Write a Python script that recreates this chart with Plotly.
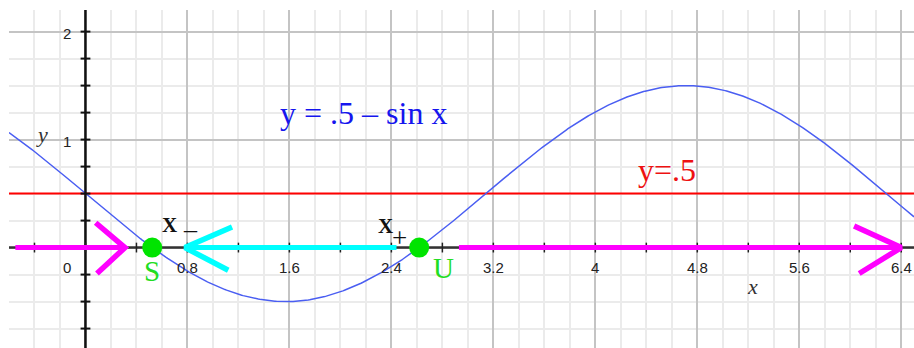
import numpy as np
import plotly.graph_objects as go

# curve y = .5 - sin x sampled over the visible window
x_min, x_max = -0.6, 6.5
y_min, y_max = -0.93, 2.2
curve_x = np.linspace(x_min, x_max, 600)
curve_y = 0.5 - np.sin(curve_x)
level = 0.5

# equilibria: stable S and unstable U
eq_x = [np.pi / 6, 5 * np.pi / 6]
eq_y = [0.0, 0.0]

# tick labels
x_tick_vals = [0.8, 1.6, 2.4, 3.2, 4.0, 4.8, 5.6, 6.4]
x_tick_text = ["0.8", "1.6", "2.4", "3.2", "4", "4.8", "5.6", "6.4"]
y_tick_vals = [1, 2]
y_tick_text = ["1", "2"]
x_tick_marks = [round(-0.4 + 0.4 * i, 2) for i in range(18)]
y_tick_marks = [round(-0.75 + 0.25 * i, 2) for i in range(12)]

# flow arrows on the phase line (shaft + chevron head)
left_shaft_x = [-0.55, 0.3]
left_head_x = [0.08, 0.31, 0.09]
left_head_y = [0.23, 0.0, -0.24]
mid_shaft_x = [0.78, 2.44]
mid_head_x = [1.15, 0.78, 1.12]
mid_head_y = [0.19, 0.0, -0.21]
right_shaft_x = [2.93, 6.4]
right_head_x = [6.03, 6.4, 6.07]
right_head_y = [0.2, 0.0, -0.24]

MAGENTA = "#ff00ff"
CYAN = "#00ffff"
GREEN = "#00e400"
SERIF = "Liberation Serif"
SANS = "Liberation Sans"

fig = go.Figure()

fig.add_trace(go.Scatter(x=[x_min, x_max], y=[level, level], mode="lines",
                         line=dict(color="#ff0000", width=2)))
fig.add_trace(go.Scatter(x=curve_x, y=curve_y, mode="lines",
                         line=dict(color="#4a5ef2", width=1.5)))

# axes through the origin
fig.add_trace(go.Scatter(x=[x_min, x_max], y=[0, 0], mode="lines",
                         line=dict(color="#333333", width=2.5)))
fig.add_trace(go.Scatter(x=[0, 0], y=[y_min, y_max], mode="lines",
                         line=dict(color="#111111", width=2.5)))
fig.add_trace(go.Scatter(x=x_tick_marks, y=[0] * len(x_tick_marks), mode="markers",
                         marker=dict(symbol="line-ns", size=7,
                                     line=dict(color="#222222", width=1.5))))
fig.add_trace(go.Scatter(x=[0] * len(y_tick_marks), y=y_tick_marks, mode="markers",
                         marker=dict(symbol="line-ew", size=7,
                                     line=dict(color="#111111", width=2))))

# arrows
for sx, hx, hy, col in [(left_shaft_x, left_head_x, left_head_y, MAGENTA),
                        (mid_shaft_x, mid_head_x, mid_head_y, CYAN),
                        (right_shaft_x, right_head_x, right_head_y, MAGENTA)]:
    fig.add_trace(go.Scatter(x=sx, y=[0, 0], mode="lines",
                             line=dict(color=col, width=5)))
    fig.add_trace(go.Scatter(x=hx, y=hy, mode="lines",
                             line=dict(color=col, width=5.5)))

fig.add_trace(go.Scatter(x=eq_x, y=eq_y, mode="markers",
                         marker=dict(color=GREEN, size=20, line=dict(width=0))))

annotations = []
for v, t in zip(x_tick_vals, x_tick_text):
    annotations.append(dict(x=v, y=-0.185, text=t, showarrow=False,
                            font=dict(family=SANS, size=15, color="#222222")))
annotations.append(dict(x=-0.145, y=-0.185, text="0", showarrow=False,
                        font=dict(family=SANS, size=15, color="#222222")))
for v, t in zip(y_tick_vals, y_tick_text):
    annotations.append(dict(x=-0.145, y=v - 0.02, text=t, showarrow=False,
                            font=dict(family=SANS, size=15, color="#222222")))

annotations += [
    dict(x=2.18, y=1.25, text="y = .5 – sin x", showarrow=False,
         font=dict(family=SERIF, size=32, color="#1515ee")),
    dict(x=4.56, y=0.72, text="y=.5", showarrow=False,
         font=dict(family=SERIF, size=32, color="#ee1111")),
    dict(x=0.52, y=-0.22, text="S", showarrow=False,
         font=dict(family=SERIF, size=29, color="#22dd22")),
    dict(x=2.81, y=-0.19, text="U", showarrow=False,
         font=dict(family=SERIF, size=29, color="#22dd22")),
    dict(x=0.663, y=0.213, text="<b>X</b>", showarrow=False,
         font=dict(family=SERIF, size=21, color="#111111")),
    dict(x=0.82, y=0.25, text="_", showarrow=False,
         font=dict(family=SERIF, size=26, color="#111111")),
    dict(x=2.35, y=0.2, text="<b>X</b>", showarrow=False,
         font=dict(family=SERIF, size=21, color="#111111")),
    dict(x=2.46, y=0.093, text="+", showarrow=False,
         font=dict(family=SERIF, size=27, color="#111111")),
    dict(x=-0.34, y=1.05, text="<i>y</i>", showarrow=False,
         font=dict(family=SERIF, size=22, color="#333333")),
    dict(x=5.23, y=-0.36, text="<i>x</i>", showarrow=False,
         font=dict(family=SERIF, size=22, color="#333333")),
]

fig.update_layout(
    width=914, height=348,
    margin=dict(l=9, r=0, t=10, b=0),
    paper_bgcolor="white", plot_bgcolor="white",
    showlegend=False,
    annotations=annotations,
    xaxis=dict(range=[x_min, x_max], tick0=0, dtick=0.8, showticklabels=False,
               ticks="", showgrid=True, gridcolor="#c4c4c4", gridwidth=1.5,
               zeroline=False, showline=False,
               minor=dict(tick0=0, dtick=0.2, showgrid=True,
                          gridcolor="#ebebeb", gridwidth=1.5)),
    yaxis=dict(range=[y_min, y_max], tick0=0, dtick=1, showticklabels=False,
               ticks="", showgrid=True, gridcolor="#c4c4c4", gridwidth=1.5,
               zeroline=False, showline=False,
               minor=dict(tick0=0, dtick=0.25, showgrid=True,
                          gridcolor="#ebebeb", gridwidth=1.5)),
)

fig.write_html("out.html")
